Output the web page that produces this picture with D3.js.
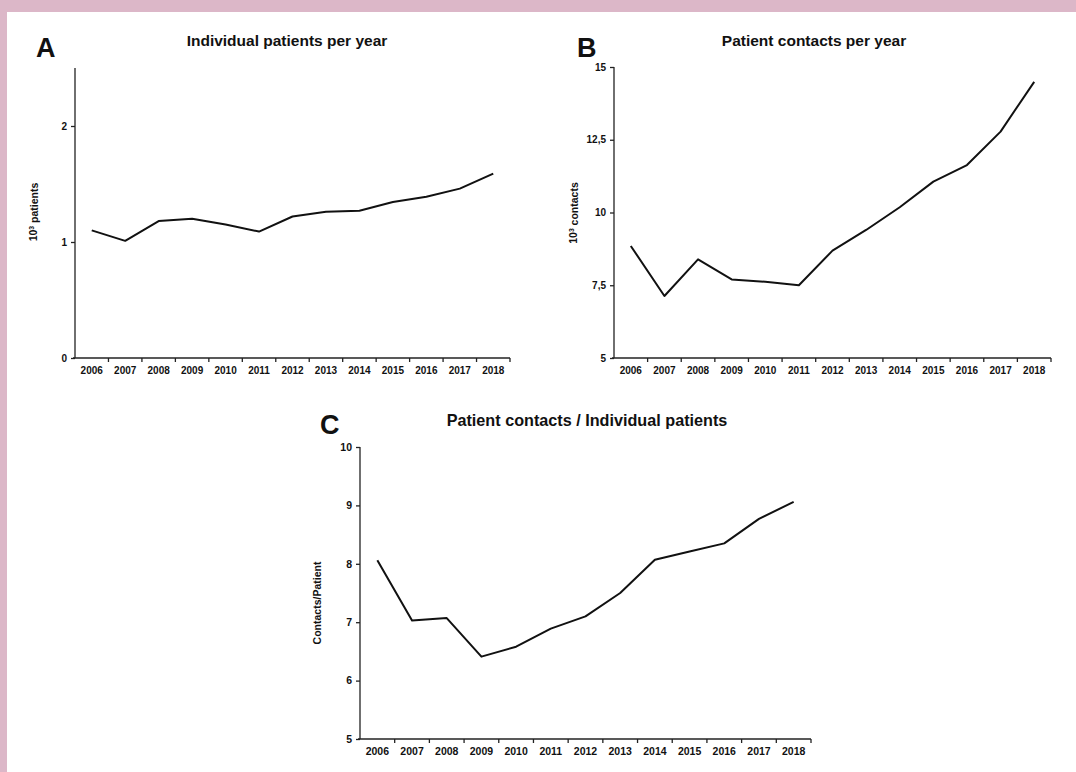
<!DOCTYPE html>
<html>
<head>
<meta charset="utf-8">
<script src="https://cdn.jsdelivr.net/npm/d3@7"></script>
<style>
  html, body { margin: 0; padding: 0; background: #dcb7c8; }
  svg { display: block; }
  text { font-family: "Liberation Sans", Arial, sans-serif; font-weight: bold; fill: #111; }
</style>
</head>
<body>
<svg id="chart" width="1076" height="772"></svg>
<script>
  // Years on the x axis (shared by all three panels)
  const years = ["2006", "2007", "2008", "2009", "2010", "2011", "2012",
                 "2013", "2014", "2015", "2016", "2017", "2018"];

  // Panel A: individual patients per year (10^3)
  const patients = [1.10, 1.01, 1.18, 1.20, 1.15, 1.09, 1.22, 1.26, 1.27, 1.345, 1.39, 1.46, 1.59];
  const patientTicks = [0, 1, 2];

  // Panel B: patient contacts per year (10^3)
  const contacts = [8.85, 7.13, 8.39, 7.70, 7.62, 7.50, 8.69, 9.40, 10.18, 11.06, 11.63, 12.78, 14.49];
  const contactTicks = [5, 7.5, 10, 12.5, 15];

  // Panel C: contacts per patient
  const ratio = [8.06, 7.03, 7.07, 6.41, 6.58, 6.89, 7.10, 7.50, 8.07, 8.21, 8.35, 8.77, 9.06];
  const ratioTicks = [5, 6, 7, 8, 9, 10];

  const svg = d3.select('#chart');

  // White page inside the pink frame
  svg.append('rect')
    .attr('x', 7).attr('y', 12)
    .attr('width', 1076 - 7).attr('height', 772 - 12)
    .attr('fill', '#ffffff');

  const fmt = d => String(d).replace('.', ',');

  function drawPanel(p) {
    const g = svg.append('g');

    const x = d3.scaleBand()
      .domain(years)
      .range([p.left, p.right]);

    const y = d3.scaleLinear()
      .domain(p.domain)
      .range([p.bottom, p.top]);

    // y axis
    const yAxis = g.append('g')
      .attr('transform', `translate(${p.left},0)`)
      .call(d3.axisLeft(y).tickValues(p.ticks).tickSize(4).tickPadding(4).tickFormat(fmt));
    yAxis.select('.domain').attr('d', `M0,${p.top}V${p.bottom}`);
    yAxis.selectAll('line, path').attr('stroke', '#222').attr('stroke-width', 1.3);
    yAxis.selectAll('text').style('font-size', p.tickFont + 'px').attr('fill', '#111');

    // x axis: labels centred in each band, tick marks on band edges
    const xAxis = g.append('g')
      .attr('transform', `translate(0,${p.bottom})`)
      .call(d3.axisBottom(x).tickSize(0).tickPadding(9));
    xAxis.select('.domain').attr('d', `M${p.left - 2},0H${p.right}`)
      .attr('stroke', '#222').attr('stroke-width', 1.3);
    xAxis.selectAll('text').style('font-size', p.tickFont + 'px').attr('fill', '#111');

    xAxis.selectAll('.edge')
      .data(years)
      .enter().append('line')
      .attr('class', 'edge')
      .attr('x1', d => x(d) + x.bandwidth())
      .attr('x2', d => x(d) + x.bandwidth())
      .attr('y1', 0).attr('y2', 4)
      .attr('stroke', '#222').attr('stroke-width', 1.3);

    // the series line
    const line = d3.line()
      .x((d, i) => x(years[i]) + x.bandwidth() / 2)
      .y(d => y(d));

    g.append('path')
      .datum(p.values)
      .attr('d', line)
      .attr('fill', 'none')
      .attr('stroke', '#111')
      .attr('stroke-width', 2)
      .attr('stroke-linejoin', 'round');

    // title and panel letter
    g.append('text')
      .attr('x', p.titleX).attr('y', p.titleY)
      .attr('text-anchor', 'middle')
      .style('font-size', p.titleFont + 'px')
      .text(p.title);

    g.append('text')
      .attr('x', p.letterX).attr('y', p.letterY)
      .style('font-size', '27px')
      .text(p.letter);

    // rotated y label
    const yl = g.append('text')
      .attr('transform', `translate(${p.labelX},${p.labelY}) rotate(-90)`)
      .attr('text-anchor', 'middle')
      .attr('dy', '0.35em')
      .style('font-size', p.labelFont + 'px');
    if (p.sup) {
      yl.append('tspan').text('10');
      yl.append('tspan').attr('dy', '-0.4em').style('font-size', (p.labelFont * 0.65) + 'px').text('3');
      yl.append('tspan').attr('dy', '0.4em').text(' ' + p.label);
    } else {
      yl.text(p.label);
    }
  }

  drawPanel({
    values: patients, ticks: patientTicks, domain: [0, 2.5],
    left: 75, right: 510, top: 68, bottom: 358, tickFont: 10,
    title: 'Individual patients per year', titleX: 287, titleY: 46, titleFont: 15.5,
    letter: 'A', letterX: 36, letterY: 57,
    label: 'patients', sup: true, labelX: 33, labelY: 212, labelFont: 10.5
  });

  drawPanel({
    values: contacts, ticks: contactTicks, domain: [5, 15],
    left: 614, right: 1051, top: 67, bottom: 358, tickFont: 10,
    title: 'Patient contacts per year', titleX: 814, titleY: 46, titleFont: 15.5,
    letter: 'B', letterX: 577, letterY: 57,
    label: 'contacts', sup: true, labelX: 573, labelY: 213, labelFont: 10.5
  });

  drawPanel({
    values: ratio, ticks: ratioTicks, domain: [5, 10],
    left: 360, right: 811, top: 447, bottom: 739, tickFont: 10.5,
    title: 'Patient contacts / Individual patients', titleX: 587, titleY: 426, titleFont: 16.2,
    letter: 'C', letterX: 320, letterY: 434,
    label: 'Contacts/Patient', sup: false, labelX: 317, labelY: 603, labelFont: 10.5
  });
</script>
</body>
</html>
